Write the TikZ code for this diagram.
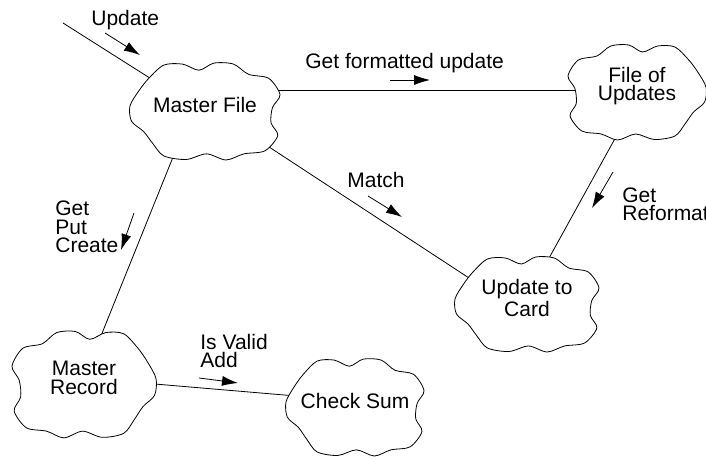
\documentclass[tikz,border=0pt]{standalone}
\usepackage{fontspec}
\setmainfont{Liberation Sans}
\usetikzlibrary{arrows.meta,calc}
\pgfdeclarelayer{edges}
\pgfdeclarelayer{clouds}
\pgfsetlayers{edges,clouds,main}

% wavy outline round a named node
\newcommand{\blob}[3]{%
  \begin{scope}[shift={(#1.center)},yshift=-2.5pt,xscale=#2,yscale=#3]
    \draw[fill=white] plot[smooth cycle] coordinates {
      (-0.75,-0.62) (-0.55,-0.88) (-0.3,-0.9) (-0.08,-0.78) (0.12,-0.92)
      (0.38,-0.9) (0.58,-0.7) (0.85,-0.62) (1.0,-0.3) (0.9,-0.05)
      (0.88,0.25) (0.97,0.5) (0.8,0.8) (0.52,0.86) (0.28,0.98)
      (0.02,0.86) (-0.25,0.97) (-0.55,0.9) (-0.7,0.65) (-0.82,0.42)
      (-0.98,0.22) (-1.0,-0.08) (-0.88,-0.38)};
  \end{scope}}

\begin{document}
\begin{tikzpicture}[x=0.5pt,y=-0.5pt,line width=0.7pt,
    font=\fontsize{10.5}{9.2}\selectfont,
    obj/.style={align=center,inner sep=1pt},
    lbl/.style={align=left,anchor=west,inner sep=0pt},
    dir/.style={-{Latex[length=8pt,width=5pt]}}]
  \useasboundingbox (0,0) rectangle (706,459);

  \node[obj] (mfile) at (205,105) {Master File};
  \node[obj] (fupd)  at (637,86)  {File of\\Updates};
  \node[obj] (ucard) at (527,298) {Update to\\Card};
  \node[obj] (mrec)  at (84,378)  {Master\\Record};
  \node[obj] (csum)  at (355,401) {Check Sum};
  \coordinate (in) at (63,23);

  \begin{pgfonlayer}{clouds}
    \blob{mfile}{75}{51}
    \blob{fupd}{-69}{50}
    \blob{ucard}{72}{50}
    \blob{mrec}{-72}{56}
    \blob{csum}{69}{51}
  \end{pgfonlayer}

  \begin{pgfonlayer}{edges}
    \draw (in) -- ([yshift=-4pt]mfile.center);
    \draw ([yshift=-2pt]mfile.center |- fupd.center) -- ([yshift=-2pt]fupd.center);
    \draw (mfile.center) -- ([yshift=-9pt]ucard.center);
    \draw ([xshift=3.5pt]fupd.center) -- (ucard.center);
    \draw ([xshift=-5.5pt]mfile.center) -- (mrec.center);
    \draw (mrec.center) -- (csum.center);
  \end{pgfonlayer}

  % labels with their direction arrows
  \node[lbl] (lupd) at (91,20) {Update};
  \draw[dir] (105,33) -- (140,55);
  \node[lbl] (lfmt) at (305,63) {Get formatted update};
  \draw[dir] (390,80) -- (430,80);
  \node[lbl] (lmatch) at (347,180) {Match};
  \draw[dir] (368,196) -- (402,217);
  \node[lbl] (lref) at (622,204) {Get\\Reformat};
  \draw[dir] (613,172) -- (592,208);
  \node[lbl] (lcre) at (55,227) {Get\\Put\\Create};
  \draw[dir] (134,213) -- (121,250);
  \node[lbl] (lval) at (200,351) {Is Valid\\Add};
  \draw[dir] (199,378) -- (238,383);
\end{tikzpicture}
\end{document}
